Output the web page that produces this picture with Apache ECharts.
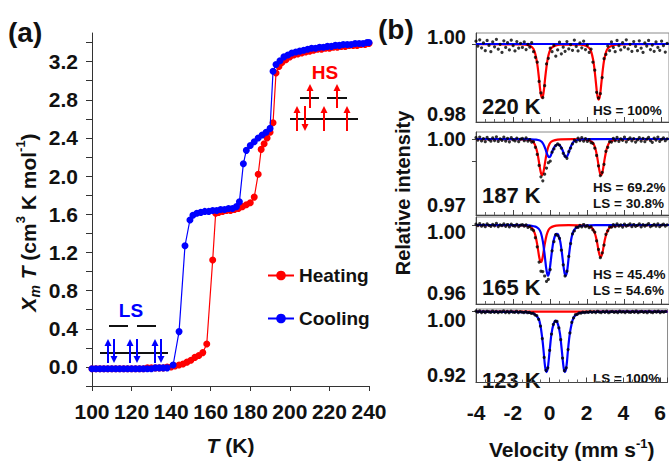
<!DOCTYPE html>
<html><head><meta charset="utf-8">
<script src="https://cdn.jsdelivr.net/npm/echarts@6/dist/echarts.min.js"></script>
<style>html,body{margin:0;padding:0;background:#fff}#c{width:669px;height:461px}</style>
</head><body><div id="c"></div>
<script>
// ---------- panel (a) data ----------
const tempHeat = [100,102,104,106,108,110,112,114,116,118,120,122,124,126,128,130,132,134,136,138,140,142,144,146,148,150,152,154,156,158,161,162.5,164,166,168,170,172,174,176,178,180,182,184,185.5,187,188.5,190,191.5,193,194.5,196,198,200,202,204,206,208,210,212,214,216,218,220,222,224,226,228,230,232,234,236,238,240];
const chiHeat = [-0.02,-0.02,-0.02,-0.02,-0.02,-0.02,-0.02,-0.02,-0.02,-0.02,-0.02,-0.02,-0.02,-0.02,-0.01,-0.01,-0.01,-0.01,-0.01,0.0,0.0,0.01,0.02,0.03,0.05,0.07,0.10,0.12,0.15,0.24,1.12,1.61,1.62,1.63,1.64,1.64,1.65,1.66,1.68,1.70,1.72,1.78,2.02,2.28,2.34,2.40,2.46,2.56,3.08,3.15,3.19,3.22,3.25,3.27,3.28,3.29,3.30,3.31,3.32,3.33,3.33,3.34,3.34,3.35,3.35,3.36,3.36,3.37,3.37,3.37,3.38,3.38,3.39];
const tempCool = [100,102,104,106,108,110,112,114,116,118,120,122,124,126,128,130,132,134,136,138,141,144,147,149.5,151,153,155,157,159,161,163,165,167,169,171,173,174.5,176.5,178,180,182,184,186,188,190,191.5,193,195,197,199,201,203,205,207,209,211,213,215,217,219,221,223,225,227,229,231,233,235,237,239,240];
const chiCool = [-0.02,-0.02,-0.02,-0.02,-0.02,-0.02,-0.02,-0.02,-0.02,-0.02,-0.02,-0.02,-0.02,-0.02,-0.02,-0.02,-0.01,-0.01,-0.01,-0.01,0.02,0.37,1.27,1.54,1.59,1.61,1.62,1.63,1.63,1.64,1.64,1.65,1.65,1.66,1.66,1.68,1.73,2.13,2.27,2.32,2.36,2.40,2.43,2.46,2.50,3.10,3.17,3.21,3.25,3.27,3.29,3.30,3.31,3.32,3.33,3.34,3.34,3.35,3.35,3.36,3.36,3.37,3.37,3.38,3.38,3.38,3.39,3.39,3.39,3.40,3.40];
const yTicksA = [-0.2,0,0.2,0.4,0.6,0.8,1.0,1.2,1.4,1.6,1.8,2.0,2.2,2.4,2.6,2.8,3.0,3.2,3.4];
const yLabelsA = [0,0.4,0.8,1.2,1.6,2.0,2.4,2.8,3.2];

// ---------- panel (b) data ----------
const velocity = [-4.0,-3.9,-3.8,-3.7,-3.6,-3.5,-3.4,-3.3,-3.2,-3.1,-3.0,-2.9,-2.8,-2.7,-2.6,-2.5,-2.4,-2.3,-2.2,-2.1,-2.0,-1.9,-1.8,-1.7,-1.6,
-1.5,-1.4,-1.3,-1.2,-1.1,-1.0,-0.9,-0.8,-0.7,-0.6,-0.5,-0.4,-0.3,-0.2,-0.1,0.0,0.1,0.2,0.3,0.4,0.5,0.6,0.7,0.8,0.9,1.0,1.1,1.2,1.3,1.4,1.5,1.6,1.7,1.8,1.9,2.0,2.1,2.2,2.3,2.4,2.5,2.6,2.7,2.8,2.9,3.0,3.1,3.2,3.3,3.4,3.5,3.6,3.7,3.8,3.9,4.0,4.1,4.2,4.3,4.4,4.5,4.6,4.7,4.8,4.9,5.0,5.1,5.2,5.3,5.4,5.5,5.6,5.7,5.8,5.9,6.0,6.1,6.2,6.3];
const dots220 = [1.0008,0.9994,1.0012,0.9989,1.0003,0.9981,1.0010,0.9996,0.9978,1.0006,0.9992,1.0013,0.9985,0.9999,0.9976,1.0009,0.9990,1.0004,0.9983,1.0011,0.9995,0.9980,1.0007,0.9988,1.0002,
0.9990,1.0006,0.9984,0.9999,0.9991,1.0004,0.9978,0.9962,0.9948,0.9893,0.9860,0.9847,0.9881,0.9943,0.9959,0.9988,0.9978,0.9996,0.9965,0.9983,1.0005,0.9972,0.9991,0.9979,1.0007,0.9986,0.9998,0.9982,1.0011,0.9993,0.9980,1.0003,0.9989,1.0008,0.9984,0.9997,0.9976,0.9985,0.9948,0.9925,0.9862,0.9846,0.9858,0.9904,0.9958,0.9970,0.9994,0.9981,1.0006,0.9990,0.9978,1.0010,0.9995,0.9983,1.0004,0.9991,1.0012,0.9986,0.9999,0.9979,1.0007,0.9993,0.9981,1.0009,0.9988,0.9976,1.0003,0.9994,1.0010,0.9984,0.9997,0.9979,1.0006,0.9990,0.9982,1.0008,0.9995,0.9977,1.0002];
const dots187 = [1.0006,0.9995,1.0009,0.9991,1.0002,0.9988,1.0007,0.9997,0.9990,1.0005,0.9993,1.0010,0.9989,1.0001,0.9994,1.0008,0.9990,1.0003,0.9987,1.0006,0.9996,0.9991,1.0004,0.9988,0.9999,
1.0003,0.9992,1.0005,0.9990,0.9997,0.9986,0.9988,0.9962,0.9930,0.9880,0.9828,0.9810,0.9840,0.9868,0.9892,0.9899,0.9940,0.9955,0.9970,0.9978,0.9972,0.9958,0.9935,0.9922,0.9912,0.9943,0.9959,0.9978,0.9995,0.9988,1.0004,0.9993,1.0006,0.9990,1.0002,0.9989,0.9997,0.9984,0.9980,0.9958,0.9925,0.9878,0.9834,0.9848,0.9885,0.9944,0.9962,0.9988,0.9986,1.0003,0.9992,1.0007,0.9989,1.0001,0.9994,1.0008,0.9987,0.9998,1.0005,0.9991,1.0002,0.9986,0.9996,1.0006,0.9990,1.0003,0.9988,0.9999,1.0007,0.9993,0.9985,1.0004,0.9995,1.0009,0.9989,0.9998,1.0005,0.9992,1.0001];
const dots165 = [1.0005,0.9996,1.0008,0.9993,1.0002,0.9990,1.0006,0.9998,0.9992,1.0004,0.9995,1.0009,0.9991,1.0001,0.9996,1.0007,0.9992,1.0003,0.9989,1.0005,0.9997,0.9993,1.0004,0.9990,0.9999,
1.0002,0.9993,1.0001,0.9986,0.9992,0.9975,0.9967,0.9925,0.9872,0.9782,0.9728,0.9726,0.9700,0.9668,0.9680,0.9738,0.9848,0.9902,0.9944,0.9938,0.9922,0.9852,0.9766,0.9700,0.9728,0.9815,0.9891,0.9948,0.9965,0.9988,0.9986,0.9998,0.9989,1.0003,0.9990,0.9996,0.9984,0.9990,0.9971,0.9958,0.9906,0.9856,0.9808,0.9836,0.9882,0.9945,0.9966,0.9989,0.9987,1.0002,0.9991,1.0006,0.9993,1.0001,0.9988,1.0005,0.9994,0.9999,1.0007,0.9990,1.0003,0.9992,0.9998,1.0006,0.9989,1.0002,0.9994,1.0000,1.0008,0.9991,0.9996,1.0004,0.9993,1.0006,0.9990,0.9999,1.0005,0.9994,1.0001];
const dots123 = [1.0008,0.9994,1.0010,0.9990,1.0003,0.9988,1.0006,0.9997,0.9991,1.0009,0.9993,1.0005,0.9989,1.0002,0.9995,1.0011,0.9990,1.0004,0.9987,1.0007,0.9996,0.9992,1.0006,0.9989,1.0001,
0.9996,0.9990,1.0001,0.9987,0.9991,0.9980,0.9982,0.9960,0.9952,0.9905,0.9818,0.9662,0.9424,0.9262,0.9294,0.9514,0.9718,0.9840,0.9878,0.9879,0.9796,0.9648,0.9416,0.9258,0.9293,0.9524,0.9732,0.9866,0.9922,0.9962,0.9967,0.9986,0.9983,0.9995,0.9988,0.9998,0.9991,1.0004,0.9993,1.0001,0.9989,1.0006,0.9995,0.9990,1.0003,0.9992,1.0008,0.9987,0.9999,1.0005,0.9991,1.0002,0.9988,1.0007,0.9994,1.0001,0.9989,1.0006,0.9996,0.9991,1.0004,0.9993,1.0009,0.9990,0.9998,1.0005,0.9992,1.0002,0.9987,1.0006,0.9995,0.9990,1.0003,0.9994,1.0008,0.9989,1.0001,0.9996,1.0004];

const fitHS220 = [[-4,0.99995],[-2.5,0.9999],[-1.5,0.99985],[-1.2,0.99966],[-1.0,0.9992],[-0.9,0.99854],[-0.8,0.99707],[-0.7,0.9943],[-0.64,0.99184],[-0.59,0.98937],[-0.54,0.98691],[-0.49,0.98522],[-0.44,0.9846],[-0.39,0.98522],[-0.34,0.98691],[-0.29,0.98937],[-0.24,0.99184],[-0.14,0.99569],[-0.04,0.99784],[0.06,0.99885],[0.26,0.99954],[0.56,0.99983],[1.0,0.9998],[1.61,0.99983],[1.91,0.99952],[2.11,0.99881],[2.21,0.99777],[2.31,0.99555],[2.36,0.9938],[2.41,0.99157],[2.46,0.98903],[2.51,0.98649],[2.56,0.98474],[2.61,0.9841],[2.66,0.98474],[2.71,0.98649],[2.76,0.98903],[2.81,0.99157],[2.86,0.9938],[2.91,0.99555],[3.01,0.99777],[3.11,0.99881],[3.31,0.99952],[3.61,0.99983],[4.5,0.99995],[6.4,1.0]];
const fitLS220 = [[-4,1.0],[6.4,1.0]];
const fitHS187 = [[-4,0.99995],[-2,0.9999],[-1.5,0.99984],[-1.2,0.99964],[-1.0,0.99915],[-0.9,0.99844],[-0.8,0.99688],[-0.7,0.99393],[-0.6,0.98918],[-0.54,0.98606],[-0.49,0.98426],[-0.44,0.9836],[-0.39,0.98426],[-0.34,0.98606],[-0.29,0.98868],[-0.24,0.99131],[-0.14,0.99541],[-0.04,0.9977],[0.06,0.99877],[0.26,0.99951],[0.56,0.99982],[1.2,0.9999],[1.74,0.99982],[2.04,0.99951],[2.24,0.99877],[2.34,0.9977],[2.44,0.99541],[2.54,0.99131],[2.59,0.98868],[2.64,0.98606],[2.69,0.98426],[2.74,0.9836],[2.79,0.98426],[2.84,0.98606],[2.89,0.98868],[2.94,0.99131],[3.04,0.99541],[3.14,0.9977],[3.24,0.99877],[3.44,0.99951],[3.74,0.99982],[4.5,0.99995],[6.4,1.0]];
const fitLS187 = [[-4,1.0],[-1.5,0.99996],[-1.06,0.9999],[-0.76,0.99972],[-0.56,0.9993],[-0.46,0.9987],[-0.36,0.9975],[-0.31,0.9965],[-0.26,0.9955],[-0.21,0.9942],[-0.16,0.9930],[-0.11,0.9921],[-0.06,0.9917],[-0.01,0.9919],[0.04,0.9927],[0.09,0.9939],[0.14,0.9950],[0.19,0.9959],[0.24,0.9966],[0.32,0.9973],[0.40,0.9975],[0.48,0.9973],[0.56,0.9966],[0.61,0.9959],[0.66,0.9950],[0.71,0.9939],[0.76,0.9927],[0.81,0.9919],[0.86,0.9917],[0.91,0.9921],[0.96,0.9930],[1.01,0.9942],[1.06,0.9955],[1.11,0.9965],[1.16,0.9975],[1.26,0.9987],[1.36,0.9993],[1.56,0.99972],[1.86,0.9999],[2.5,0.99998],[6.4,1.0]];
const fitHS165 = [[-4,0.99995],[-2,0.9999],[-1.5,0.99976],[-1.2,0.99935],[-1.0,0.99836],[-0.9,0.99695],[-0.8,0.9939],[-0.7,0.98845],[-0.65,0.98496],[-0.6,0.98147],[-0.55,0.97907],[-0.5,0.9782],[-0.45,0.97907],[-0.4,0.98147],[-0.35,0.98496],[-0.3,0.98845],[-0.2,0.9939],[-0.1,0.99695],[0.0,0.99836],[0.2,0.99935],[0.5,0.99976],[1.0,0.9999],[1.5,0.9998],[2.0,0.9995],[2.2,0.9987],[2.3,0.9976],[2.4,0.9953],[2.5,0.9912],[2.57,0.9870],[2.62,0.9840],[2.67,0.9820],[2.72,0.9812],[2.77,0.9820],[2.82,0.9840],[2.87,0.9870],[2.94,0.9912],[3.04,0.9953],[3.14,0.9976],[3.24,0.9987],[3.44,0.9995],[3.74,0.9998],[4.5,0.99995],[6.4,1.0]];
const fitLS165 = [[-4,1.0],[-2,0.99995],[-1.5,0.99985],[-1.2,0.99973],[-1.0,0.99953],[-0.8,0.99905],[-0.7,0.99852],[-0.6,0.9975],[-0.5,0.9953],[-0.4,0.9905],[-0.32,0.9842],[-0.27,0.9795],[-0.22,0.9748],[-0.17,0.9716],[-0.12,0.9701],[-0.07,0.9713],[-0.02,0.9745],[0.03,0.979],[0.08,0.9836],[0.13,0.9876],[0.18,0.9907],[0.28,0.9943],[0.355,0.9948],[0.43,0.9943],[0.53,0.9907],[0.58,0.9876],[0.63,0.9836],[0.68,0.979],[0.73,0.9745],[0.78,0.9713],[0.83,0.9701],[0.88,0.9713],[0.93,0.9745],[0.98,0.9794],[1.03,0.9841],[1.13,0.9916],[1.23,0.9958],[1.33,0.9977],[1.53,0.9991],[1.83,0.9997],[2.5,0.9999],[6.4,1.0]];
const fitHS123 = [[-4,1.0],[6.4,1.0]];
const fitLS123 = [[-4,1.0],[-2,0.9998],[-1.5,0.9995],[-1.2,0.9992],[-1.0,0.9984],[-0.8,0.9968],[-0.6,0.9911],[-0.5,0.9824],[-0.42,0.970],[-0.37,0.960],[-0.32,0.948],[-0.27,0.935],[-0.22,0.9268],[-0.17,0.9238],[-0.12,0.9268],[-0.07,0.9348],[-0.02,0.9465],[0.03,0.958],[0.1,0.9724],[0.2,0.9834],[0.33,0.9887],[0.46,0.9834],[0.56,0.9724],[0.63,0.958],[0.68,0.9465],[0.73,0.9348],[0.78,0.9268],[0.83,0.9238],[0.88,0.9268],[0.93,0.935],[0.98,0.948],[1.03,0.960],[1.08,0.970],[1.16,0.981],[1.3,0.9926],[1.5,0.9971],[1.8,0.999],[2.5,0.9997],[4,1.0],[6.4,1.0]];

const panelTemps = ['220 K','187 K','165 K','123 K'];
const panelFractions = [['HS = 100%'],['HS = 69.2%','LS = 30.8%'],['HS = 45.4%','LS = 54.6%'],['LS = 100%']];
const panelYMin = [0.97771, 0.96545, 0.95353, 0.91086];
const panelYMax = [1.00314, 1.00318, 1.00471, 1.00343];
const panelYLabels = [[0.98,1.00],[0.97,1.00],[0.96,1.00],[0.92,1.00]];
const panelYTicks = [[1.00],[0.99,1.00],[1.00],[1.00]];

// ---------- styling / layout ----------
const FF = "'Liberation Sans', Arial, Helvetica, sans-serif";
const RED = '#ff0000', BLUE = '#0000ff', INK = '#111';
const panelTop = [33,132,217,309];
const panelH = [89,83,87,81];
const labelShift = [[0,0,14,0],[0,0,0,0],[14,0,0,0],[16,0,0,0]];

const grids = [{left:92, top:33, width:277, height:360.5}];
const xAxes = [{
  gridIndex:0, type:'value', min:100, max:240, interval:20,
  axisLine:{show:true, onZero:false, lineStyle:{color:'#333', width:1}},
  axisTick:{show:true, length:5, lineStyle:{color:'#333'}},
  axisLabel:{color:INK, fontFamily:FF, fontWeight:'bold', fontSize:21, margin:15},
  splitLine:{show:false},
  name:'{i|T}{n| (K)}', nameLocation:'middle', nameGap:49,
  nameTextStyle:{color:INK, fontFamily:FF, fontWeight:'bold', fontSize:21,
    rich:{i:{fontStyle:'italic', fontWeight:'bold', fontSize:21, fontFamily:FF, color:INK}, n:{fontWeight:'bold', fontSize:21, fontFamily:FF, color:INK}}}
}];
const yAxes = [{
  gridIndex:0, type:'value', min:-0.2, max:3.5,
  axisLine:{show:true, onZero:false, lineStyle:{color:'#333', width:1}},
  axisTick:{show:true, length:6, customValues:yTicksA, lineStyle:{color:'#333'}},
  axisLabel:{customValues:yLabelsA, formatter:v=>v.toFixed(1), color:INK, fontFamily:FF, fontWeight:'bold', fontSize:21, margin:14},
  splitLine:{show:false},
  name:'{i|X}{sub|m}{i| T}{n| (cm}{sup|3}{n| K mol}{sup|-1}{n|)}',
  nameLocation:'middle', nameRotate:90, nameGap:50,
  nameTextStyle:{color:INK, fontFamily:FF, fontWeight:'bold', fontSize:21, padding:[0,26,0,0],
    rich:{
      i:{fontStyle:'italic', fontWeight:'bold', fontSize:21, fontFamily:FF, color:INK, lineHeight:28},
      n:{fontWeight:'bold', fontSize:21, fontFamily:FF, color:INK, lineHeight:28},
      sub:{fontStyle:'italic', fontWeight:'bold', fontSize:14, fontFamily:FF, color:INK, verticalAlign:'bottom', lineHeight:16},
      sup:{fontWeight:'bold', fontSize:13, fontFamily:FF, color:INK, verticalAlign:'top', lineHeight:16}
    }}
}];

for (let k=0;k<4;k++){
  grids.push({left:476, top:panelTop[k], width:197.6, height:panelH[k], show:true, borderColor:'#8a8a8a', borderWidth:1});
  const last = (k===3);
  xAxes.push({
    gridIndex:k+1, type:'value', min:-4, max:6.4, interval:2,
    axisLine:{show:true, onZero:false, lineStyle:{color:'#444', width:1}},
    axisTick:{show:true, inside:true, length:5, lineStyle:{color:'#444'}},
    minorTick:{show:true, splitNumber:4, length:3, lineStyle:{color:'#666'}},
    axisLabel:{show:last, showMaxLabel:false, color:INK, fontFamily:FF, fontWeight:'bold', fontSize:21, margin:19},
    splitLine:{show:false},
    name: last ? '{n|Velocity (mm s}{sup|-1}{n|)}' : '',
    nameLocation:'middle', nameGap:54,
    nameTextStyle:{color:INK, fontFamily:FF, fontWeight:'bold', fontSize:21,
      rich:{n:{fontWeight:'bold', fontSize:21, fontFamily:FF, color:INK, lineHeight:26},
            sup:{fontWeight:'bold', fontSize:13, fontFamily:FF, color:INK, verticalAlign:'top', lineHeight:14}}}
  });
  const sh = labelShift[k];
  yAxes.push({
    gridIndex:k+1, type:'value', min:panelYMin[k], max:panelYMax[k],
    axisLine:{show:true, onZero:false, lineStyle:{color:'#444', width:1}},
    axisTick:{show:true, length:4, customValues:panelYTicks[k], lineStyle:{color:'#444'}},
    axisLabel:{customValues:panelYLabels[k], margin:10, color:INK, fontFamily:FF, fontWeight:'bold', fontSize:20,
      formatter:v=> (Math.abs(v-1)<1e-9 ? '{t|' : '{b|') + v.toFixed(2) + '}',
      rich:{t:{padding:sh, fontFamily:FF, fontWeight:'bold', fontSize:20, color:INK},
            b:{fontFamily:FF, fontWeight:'bold', fontSize:20, color:INK}}},
    splitLine:{show:false}
  });
}

const zip = (xs, ys) => xs.map((x,i)=>[x, ys[i]]);
const series = [
  {name:'Heating', type:'line', xAxisIndex:0, yAxisIndex:0, data:zip(tempHeat, chiHeat), color:RED,
   symbol:'circle', symbolSize:7, lineStyle:{width:1.2, color:RED}, itemStyle:{color:RED}, z:3},
  {name:'Cooling', type:'line', xAxisIndex:0, yAxisIndex:0, data:zip(tempCool, chiCool), color:BLUE,
   symbol:'circle', symbolSize:7, lineStyle:{width:1.2, color:BLUE}, itemStyle:{color:BLUE}, z:4}
];
const fitsHS = [fitHS220, fitHS187, fitHS165, fitHS123];
const fitsLS = [fitLS220, fitLS187, fitLS165, fitLS123];
const dotSets = [dots220, dots187, dots165, dots123];
for (let k=0;k<4;k++){
  series.push({type:'line', xAxisIndex:k+1, yAxisIndex:k+1, data:fitsHS[k], showSymbol:false, smooth:0.35,
    lineStyle:{color:RED, width:2.2}, z:2, silent:true});
  series.push({type:'line', xAxisIndex:k+1, yAxisIndex:k+1, data:fitsLS[k], showSymbol:false, smooth:0.35,
    lineStyle:{color:BLUE, width:2.2}, z:2, silent:true});
  series.push({type:'scatter', xAxisIndex:k+1, yAxisIndex:k+1, data:zip(velocity, dotSets[k]), symbolSize:3.2,
    itemStyle:{color:'#000'}, z:5, silent:true});
}

// ---------- annotations ----------
const G = [];
function T(x,y,text,size,color,align,rot){
  const e = {type:'text', x:x, y:y, style:{text:text, fontFamily:FF, fontWeight:'bold', fontSize:size, fill:color, align:align||'left', verticalAlign:'middle'}};
  if (rot) e.rotation = rot;
  G.push(e);
}
function L(x1,y1,x2,y2,c,w){ G.push({type:'line', shape:{x1,y1,x2,y2}, style:{stroke:c, lineWidth:w||2}}); }
function A(x,yFrom,yTo,c){
  const s = yTo < yFrom ? 1 : -1;
  L(x, yFrom, x, yTo + s*5, c, 2);
  G.push({type:'polygon', shape:{points:[[x-3.5, yTo + s*7],[x+3.5, yTo + s*7],[x, yTo]]}, style:{fill:c}});
}
T(8,32,'(a)',28,INK);
T(378,29,'(b)',28,INK);
T(403,193,'Relative intensity',20,INK,'center',Math.PI/2);
// LS scheme
T(131,310,'LS',19,BLUE,'center');
L(109,326,128,326,'#111'); L(137,326,156,326,'#111');
L(100,353,168,353,'#111');
[[108,114],[130,137],[155,161]].forEach(p=>{ A(p[0],363,339,BLUE); A(p[1],339,363,BLUE); });
// HS scheme
T(325,72,'HS',19,RED,'center');
L(300,98,319,98,'#111'); L(327,98,347,98,'#111');
L(290,119,358,119,'#111');
A(310,108,84,RED); A(337,108,84,RED);
A(297,131,106,RED); A(305,106,131,RED); A(324,131,106,RED); A(347,131,106,RED);
// spectrum labels
const tempY = [106,195,287,380];
const fracY = [[110],[187,203],[274,290],[378]];
for (let k=0;k<4;k++){
  T(482,tempY[k],panelTemps[k],22,INK);
  panelFractions[k].forEach((s,j)=>T(593,fracY[k][j],s,13.5,INK));
}

const chart = echarts.init(document.getElementById('c'), null, {renderer:'svg'});
chart.setOption({
  animation:false,
  backgroundColor:'#fff',
  textStyle:{fontFamily:FF},
  grid:grids, xAxis:xAxes, yAxis:yAxes, series:series,
  legend:{data:['Heating','Cooling'], orient:'vertical', left:262, top:261, itemWidth:26, itemHeight:12, itemGap:24,
    textStyle:{fontFamily:FF, fontWeight:'bold', fontSize:19, color:INK}},
  graphic:G
});
</script></body></html>
